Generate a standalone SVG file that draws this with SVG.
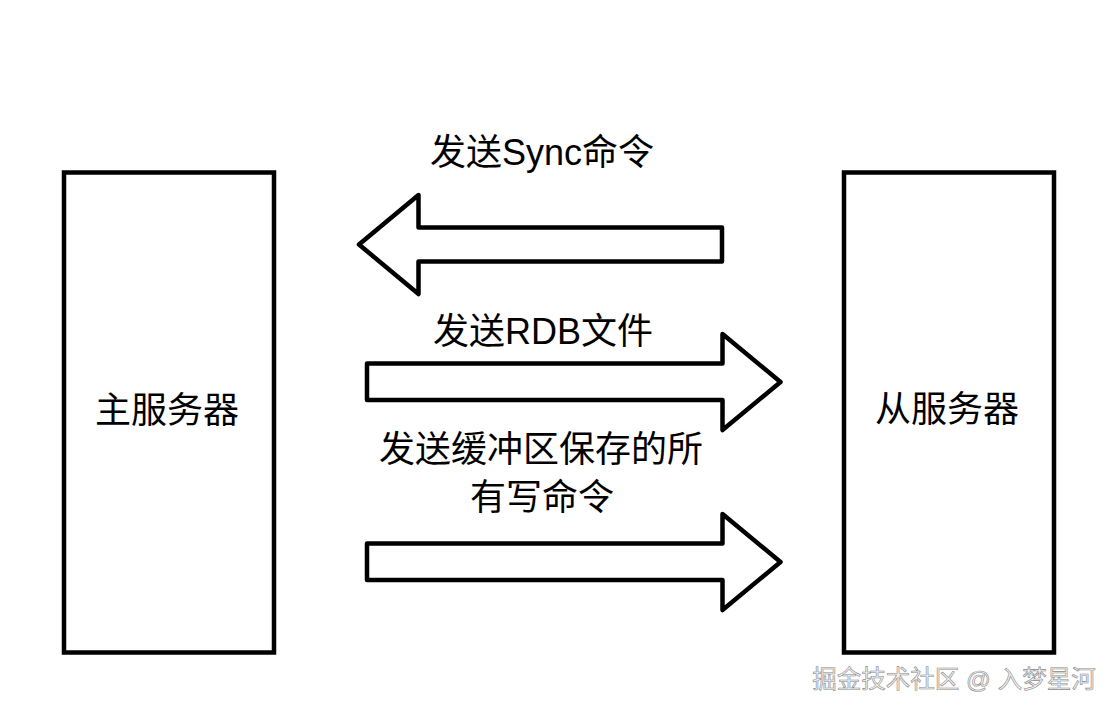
<svg xmlns="http://www.w3.org/2000/svg" width="1119" height="714" viewBox="0 0 1119 714">
<style>
.box{fill:#fff;stroke:#000;stroke-width:4.5}
.arrow{fill:#fff;stroke:#000;stroke-width:4.5;stroke-linejoin:round}
.t{font-family:"Liberation Sans","Noto Sans CJK SC",sans-serif;font-size:36px;fill:#000;text-anchor:middle;dominant-baseline:central}
.wm{font-family:"Liberation Sans","Noto Sans CJK SC",sans-serif;font-size:24.5px;fill:#f2f2f2;stroke:#8a8a8a;stroke-width:0.6;text-anchor:middle;dominant-baseline:central}
</style>
<rect width="1119" height="714" fill="#fff"/>
<g id="master">
<rect class="box" x="64" y="172.5" width="210" height="480"/>
<text class="t" x="167" y="410">主服务器</text>
</g>
<g id="slave">
<rect class="box" x="844" y="172.5" width="210" height="480"/>
<text class="t" x="947" y="409">从服务器</text>
</g>
<g id="connectors">
<path class="arrow" d="M722,227.5 L418.5,227.5 L418.5,195 L359,244.5 L418.5,294 L418.5,261.5 L722,261.5 Z"/>
<path class="arrow" d="M367,363.5 L722.5,363.5 L722.5,334 L780.5,382 L722.5,430 L722.5,400 L367,400 Z"/>
<path class="arrow" d="M367,543.5 L722.5,543.5 L722.5,514 L780.5,562 L722.5,610 L722.5,580 L367,580 Z"/>
</g>
<g id="labels">
<text class="t" x="542" y="152">发送Sync命令</text>
<text class="t" x="543" y="331">发送RDB文件</text>
<text class="t" x="541" y="449">发送缓冲区保存的所</text>
<text class="t" x="542" y="497">有写命令</text>
</g>
<text class="wm" x="954" y="679">掘金技术社区 @ 入梦星河</text>
</svg>
